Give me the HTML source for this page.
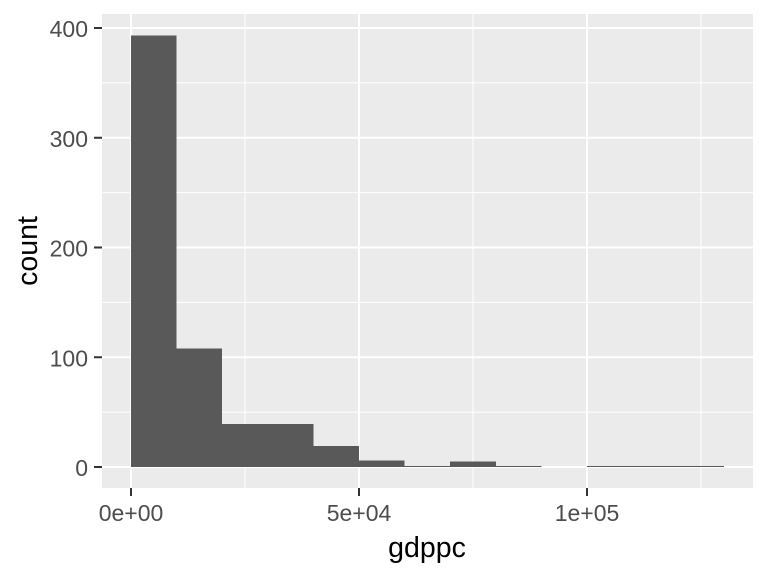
<!DOCTYPE html>
<html>
<head>
<meta charset="utf-8">
<title>gdppc histogram</title>
<style>
html,body{margin:0;padding:0;background:#fff;}
svg{display:block;font-family:"Liberation Sans",Arial,sans-serif;}
</style>
</head>
<body>
<svg id="chart" width="768" height="576" viewBox="0 0 768 576" xmlns="http://www.w3.org/2000/svg"></svg>
<script>
const binStarts = [0, 10000, 20000, 30000, 40000, 50000, 60000, 70000, 80000, 90000, 100000, 110000, 120000];
const binCounts = [393, 108, 39, 39, 19, 6, 1, 5, 1, 0, 1, 1, 1];
const binWidth = 10000;
const xTicks = [0, 50000, 100000];
const xTickLabels = ["0e+00", "5e+04", "1e+05"];
const xMinorTicks = [25000, 75000, 125000];
const yTicks = [0, 100, 200, 300, 400];
const yTickLabels = ["0", "100", "200", "300", "400"];
const yMinorTicks = [50, 150, 250, 350];

const panel = {left: 102, right: 753, top: 14, bottom: 488};
function xScale(v) { return 131 + v * 228 / 50000; }
function yScale(v) { return 467 - v * 439 / 400; }

const svg = document.getElementById('chart');
const NS = 'http://www.w3.org/2000/svg';
function make(tag, props, parent) {
  const el = document.createElementNS(NS, tag);
  for (const k in props) el.setAttribute(k, props[k]);
  (parent || svg).appendChild(el);
  return el;
}

const bg = make('rect', {x: panel.left, y: panel.top, width: panel.right - panel.left, height: panel.bottom - panel.top, fill: '#ebebeb'});



function hLine(v, w) {
  const el = make('line', {x1: panel.left, x2: panel.right, y1: yScale(v), y2: yScale(v), stroke: '#fff', 'stroke-width': w});
  return el;
}
function vLine(v, w) {
  const el = make('line', {x1: xScale(v), x2: xScale(v), y1: panel.top, y2: panel.bottom, stroke: '#fff', 'stroke-width': w});
  return el;
}
yMinorTicks.forEach(v => {
  const el = hLine(v, 1);
  
  
});
xMinorTicks.forEach(v => {
  const el = vLine(v, 1);
  
  
});
yTicks.forEach(v => {
  const el = hLine(v, 2);
  
  
});
xTicks.forEach(v => {
  const el = vLine(v, 2);
  
  
});

binStarts.forEach((s, i) => {
  const x0 = xScale(s), x1 = xScale(s + binWidth);
  const y0 = yScale(binCounts[i]), y1 = yScale(0);
  const el = make('rect', {x: x0, y: y0, width: x1 - x0, height: y1 - y0, fill: '#595959', 'shape-rendering': 'crispEdges'});
  
  
});

yTicks.forEach((v, i) => {
  const t = make('line', {x1: 94, x2: panel.left, y1: yScale(v), y2: yScale(v), stroke: '#333', 'stroke-width': 2});
  
  
  const l = make('text', {x: 88, y: yScale(v) + 9, 'text-anchor': 'end', 'font-size': 23, fill: '#4d4d4d'});
  l.textContent = yTickLabels[i];
  
  
});
xTicks.forEach((v, i) => {
  const t = make('line', {x1: xScale(v), x2: xScale(v), y1: panel.bottom, y2: 496, stroke: '#333', 'stroke-width': 2});
  
  
  const l = make('text', {x: xScale(v), y: 521, 'text-anchor': 'middle', 'font-size': 23, fill: '#4d4d4d'});
  l.textContent = xTickLabels[i];
  
  
});

const xTitle = make('text', {x: 427, y: 557, 'text-anchor': 'middle', 'font-size': 28.5, fill: '#000'});
xTitle.textContent = 'gdppc';



const yTitle = make('text', {x: 0, y: 0, transform: 'translate(37 251) rotate(-90)', 'text-anchor': 'middle', 'font-size': 28.5, fill: '#000'});
yTitle.textContent = 'count';


</script>
</body>
</html>
